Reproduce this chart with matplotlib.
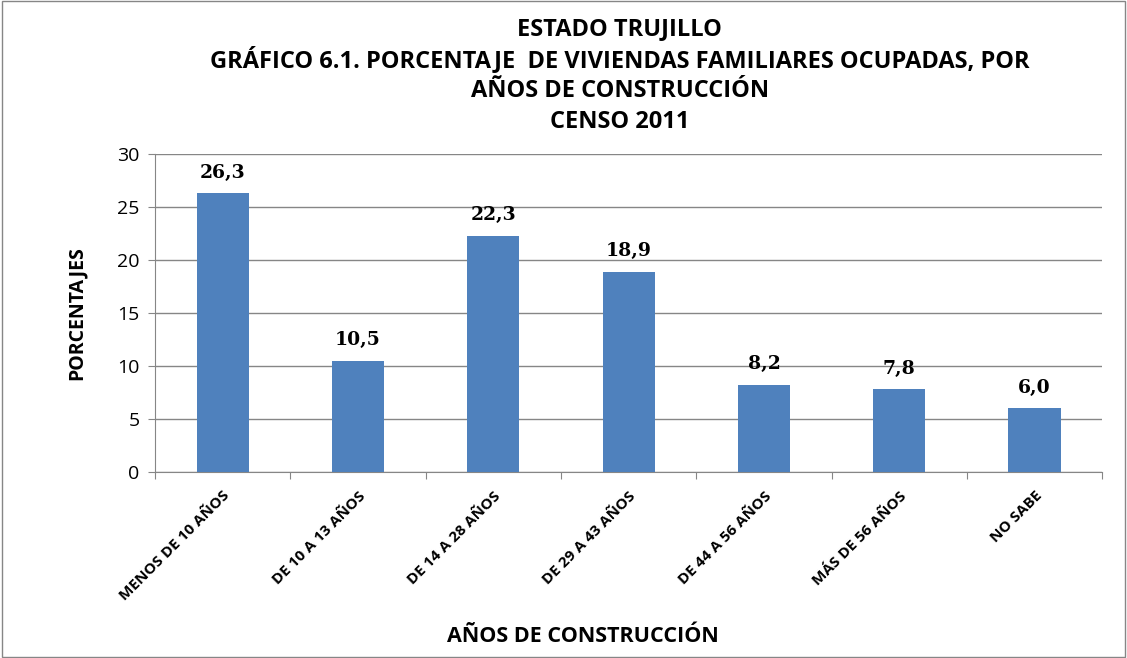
import matplotlib.pyplot as plt
from matplotlib.patches import Rectangle

categorias = ['MENOS DE 10 AÑOS', 'DE 10 A 13 AÑOS', 'DE 14 A 28 AÑOS', 'DE 29 A 43 AÑOS',
              'DE 44 A 56 AÑOS', 'MÁS DE 56 AÑOS', 'NO SABE']
porcentajes = [26.3, 10.5, 22.3, 18.9, 8.2, 7.8, 6.0]
yticks = [0, 5, 10, 15, 20, 25, 30]
titulo = ['ESTADO TRUJILLO',
          'GRÁFICO 6.1. PORCENTAJE  DE VIVIENDAS FAMILIARES OCUPADAS, POR',
          'AÑOS DE CONSTRUCCIÓN',
          'CENSO 2011']

plt.rcParams['font.family'] = ['Open Sans', 'DejaVu Sans']

fig = plt.figure(figsize=(11.27, 6.58), dpi=100)
ax = fig.add_axes([0.1375, 0.2827, 0.8405, 0.4833])

x = range(len(categorias))
ax.bar(x, porcentajes, width=0.385, color='#4F81BD', zorder=3)

# etiquetas de datos
for i, v in zip(x, porcentajes):
    ax.text(i, v + 1.1, f'{v:.1f}'.replace('.', ','), ha='center', va='bottom',
            fontsize=13.5, fontweight='bold', family='DejaVu Serif')

ax.set_xlim(-0.5, len(categorias) - 0.5)
ax.set_ylim(0, 30)
ax.set_yticks(yticks)
ax.set_yticklabels([str(t) for t in yticks], fontsize=14)
ax.yaxis.grid(True, color='#868686', linewidth=1, zorder=0)

# marcas entre categorias
ax.set_xticks([i - 0.5 for i in range(len(categorias) + 1)])
ax.set_xticklabels([])
ax.set_xticks(list(x), minor=True)
ax.set_xticklabels(categorias, minor=True, rotation=45, ha='right', rotation_mode='anchor',
                   fontsize=11, fontweight='bold')
ax.tick_params(axis='x', which='minor', length=0, pad=12)
ax.tick_params(axis='x', which='major', length=5, color='#868686')
ax.tick_params(axis='y', length=5, color='#868686', pad=6)

for s in ['top', 'right']:
    ax.spines[s].set_visible(False)
for s in ['left', 'bottom']:
    ax.spines[s].set_color('#868686')

ax.set_ylabel('PORCENTAJES', fontsize=14, fontweight='bold', labelpad=22)
fig.text(0.517, 0.032, 'AÑOS DE CONSTRUCCIÓN', ha='center', va='center',
         fontsize=15.5, fontweight='bold')

for t, yy in zip(titulo, [29, 60, 91, 122]):
    fig.text(0.55, 1 - yy / 658, t, ha='center', va='center', fontsize=17, fontweight='bold')

fig.patches.append(Rectangle((0.002, 0.002), 0.996, 0.996, transform=fig.transFigure,
                             fill=False, edgecolor='#868686', linewidth=1))

fig.savefig('out.png', dpi=100)
